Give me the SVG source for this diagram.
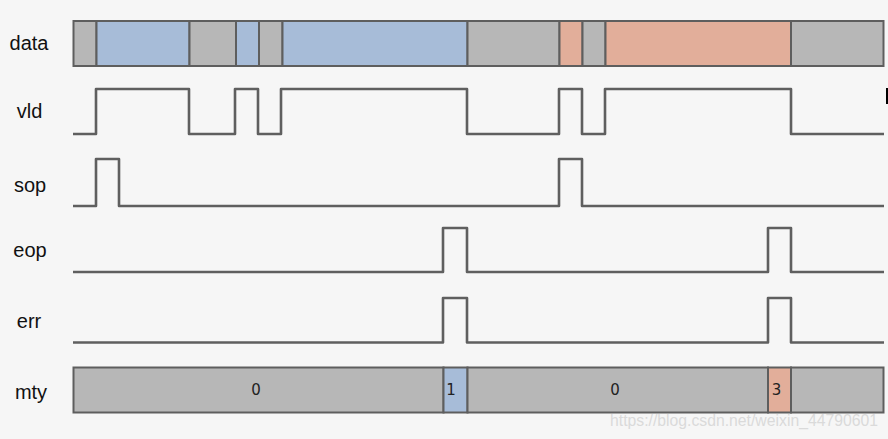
<svg xmlns="http://www.w3.org/2000/svg" width="888" height="439" viewBox="0 0 888 439">
<style>
.bg{fill:#f6f6f6}
.lbl{font-family:"Liberation Sans",Arial,sans-serif;font-size:20px;fill:#111;text-anchor:middle}
.g{fill:#b7b7b7;stroke:#5e5e5e;stroke-width:2}
.b{fill:#a7bcd8;stroke:#5e5e5e;stroke-width:2}
.r{fill:#e2ae9a;stroke:#5e5e5e;stroke-width:2}
.w{fill:none;stroke:#5f5f5f;stroke-width:2.6;stroke-linejoin:round}
.v{font-family:"DejaVu Sans","Liberation Sans",sans-serif;font-size:15px;fill:#222;text-anchor:middle}
.wm{font-family:"Liberation Sans",Arial,sans-serif;font-size:16px;fill:#dadada}
</style>
<rect class="bg" x="0" y="0" width="888" height="439"/>
<g id="data">
<text class="lbl" x="29" y="50">data</text>
<rect class="g" x="73.5" y="21" width="23" height="45"/>
<rect class="b" x="96.5" y="21" width="93" height="45"/>
<rect class="g" x="189.5" y="21" width="46.5" height="45"/>
<rect class="b" x="236" y="21" width="23" height="45"/>
<rect class="g" x="259" y="21" width="23.5" height="45"/>
<rect class="b" x="282.5" y="21" width="185" height="45"/>
<rect class="g" x="467.5" y="21" width="92" height="45"/>
<rect class="r" x="559.5" y="21" width="23" height="45"/>
<rect class="g" x="582.5" y="21" width="23" height="45"/>
<rect class="r" x="605.5" y="21" width="185.5" height="45"/>
<rect class="g" x="791" y="21" width="92.5" height="45"/>
</g>
<g id="vld">
<text class="lbl" x="29.5" y="118">vld</text>
<path class="w" d="M73,134 H96 V89 H189 V134 H235 V89 H258 V134 H281 V89 H467 V134 H559 V89 H582 V134 H605 V89 H791 V134 H884"/>
</g>
<g id="sop">
<text class="lbl" x="30" y="192">sop</text>
<path class="w" d="M73,206 H96 V159 H119 V206 H559 V159 H582 V206 H884"/>
</g>
<g id="eop">
<text class="lbl" x="30" y="257">eop</text>
<path class="w" d="M73,272 H443 V228 H467 V272 H768 V228 H791 V272 H884"/>
</g>
<g id="err">
<text class="lbl" x="29" y="328">err</text>
<path class="w" d="M73,342.5 H443 V298 H467 V342.5 H768 V298 H791 V342.5 H884"/>
</g>
<g id="mty">
<text class="lbl" x="31" y="399">mty</text>
<rect class="g" x="73.5" y="367.5" width="370" height="45"/>
<rect class="b" x="443.5" y="367.5" width="24" height="45"/>
<rect class="g" x="467.5" y="367.5" width="300.5" height="45"/>
<rect class="r" x="768" y="367.5" width="23" height="45"/>
<rect class="g" x="791" y="367.5" width="92.5" height="45"/>
<text class="v" x="256" y="395">0</text>
<text class="v" x="451" y="395">1</text>
<text class="v" x="615" y="395">0</text>
<text class="v" x="776.5" y="395">3</text>
</g>
<rect x="886" y="88" width="2" height="16" fill="#000"/>
<text class="wm" x="610" y="426" textLength="268" lengthAdjust="spacingAndGlyphs">https://blog.csdn.net/weixin_44790601</text>
</svg>
